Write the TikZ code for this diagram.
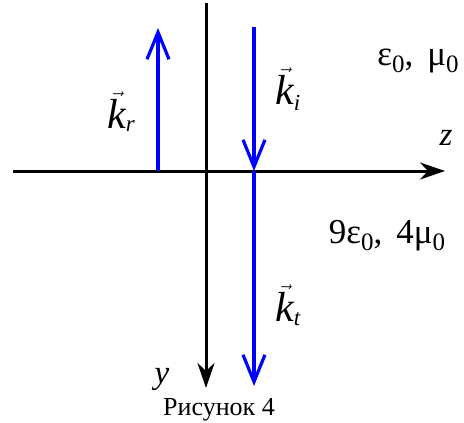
\documentclass[tikz,border=0pt]{standalone}
\usepackage{fontspec}
\setmainfont{Liberation Serif}
\usetikzlibrary{arrows.meta}
\newcommand{\kvec}[1]{\ensuremath{\vec{\mbox{\itshape k}}_{\mbox{\fontsize{23}{23}\selectfont\itshape #1}}}}
\newcommand{\sub}[1]{\raisebox{-0.45ex}{\fontsize{25}{25}\selectfont #1}}
\tikzset{
  axis/.style={line width=3pt, -{Stealth[length=25pt,width=17pt,inset=8pt]}},
  wave/.style={line width=3.2pt, blue, -{Straight Barb[length=27pt,width=22pt,line width=3.2pt]}},
  klabel/.style={font=\fontsize{42}{42}\selectfont, anchor=base west, inner sep=0pt},
  medium/.style={font=\fontsize{35}{35}\selectfont, anchor=base, inner sep=0pt},
  axlabel/.style={font=\fontsize{33}{33}\selectfont\itshape, anchor=base, inner sep=0pt},
}
\begin{document}
\begin{tikzpicture}[x=1pt,y=-1pt]
\useasboundingbox (0,0) rectangle (464,423);
\coordinate (zs) at (13,171);
\coordinate (ze) at (445,171);
\coordinate (ys) at (206,3);
\coordinate (ye) at (206,388);
\coordinate (rs) at (158,171);
\coordinate (re) at (158,28);
\coordinate (is) at (254,27);
\coordinate (ie) at (254,171);
\coordinate (ts) at (254,171);
\coordinate (te) at (254,386);
\draw[axis] (zs) -- (ze);
\draw[axis] (ys) -- (ye);
\draw[wave] (rs) -- (re);
\draw[wave] (is) -- (ie);
\draw[wave] (ts) -- (te);
\node[klabel] (kr) at (107,128) {\kvec{r}};
\node[klabel] (ki) at (275,104) {\kvec{i}};
\node[klabel] (kt) at (275,321) {\kvec{t}};
\node[axlabel] (zl) at (446,145) {z};
\node[axlabel] (yl) at (162,383) {y};
\node[medium] (m1) at (418,65) {ε\sub{0},\hspace{0.4em}μ\sub{0}};
\node[medium] (m2) at (387,243) {9ε\sub{0},\hspace{0.4em}4μ\sub{0}};
\node[font=\fontsize{26}{26}\selectfont, anchor=base, inner sep=0pt] (cap) at (219,415) {Рисунок 4};
\end{tikzpicture}
\end{document}
